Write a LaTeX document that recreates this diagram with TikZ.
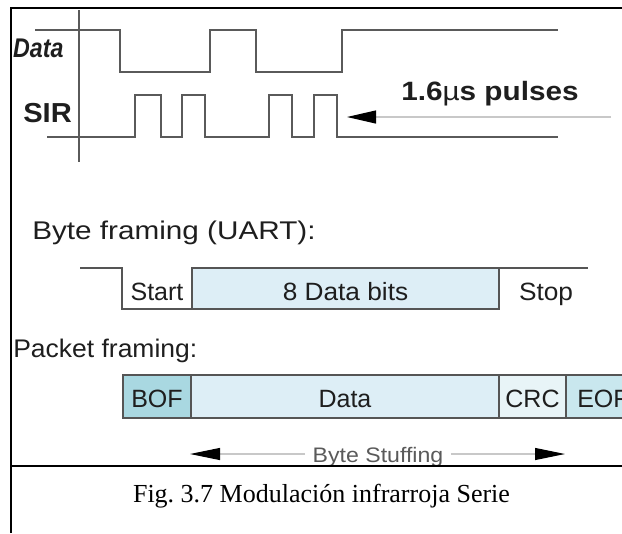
\documentclass[tikz,border=0pt]{standalone}
\usepackage{fontspec}
\setmainfont{Liberation Serif}
\setsansfont{Liberation Sans}
\usetikzlibrary{arrows.meta}
\frenchspacing

\definecolor{ink}{HTML}{1E1E1E}
\definecolor{wavegray}{HTML}{5A5A5A}
\definecolor{boxgray}{HTML}{555555}
\definecolor{hairline}{HTML}{C8C8C8}
\definecolor{databox}{HTML}{DDEEF6}
\definecolor{bofbox}{HTML}{A9D8E1}
\definecolor{crcbox}{HTML}{E8F4F7}
\definecolor{eofbox}{HTML}{C9E7EE}

\begin{document}
\begin{tikzpicture}[x=0.75pt,y=-0.75pt,
  wave/.style={draw=wavegray, line width=1.5pt, line join=miter},
  boxline/.style={draw=boxgray, line width=1.5pt, line join=miter},
  frameline/.style={draw=black, line width=1.2pt},
  pointer/.style={draw=hairline, line width=0.8pt},
  lbl/.style={text=ink, inner sep=0pt},
  sans/.style={lbl, font=\sffamily\fontsize{18.75pt}{22pt}\selectfont},
]
\useasboundingbox (0,0) rectangle (622,533);
\begin{scope}
\clip (0,0) rectangle (622,533);

% ---------- timing diagram ----------
\draw[wave] (79,10) -- (79,162);
\draw[wave] (35,30) -- (120,30) -- (120,72) -- (210,72) -- (210,30) -- (256,30)
  -- (256,72) -- (342,72) -- (342,30) -- (558,30);
\draw[wave] (47,137) -- (135,137) -- (135,95) -- (161,95) -- (161,137)
  -- (182,137) -- (182,95) -- (205,95) -- (205,137) -- (269,137) -- (269,95)
  -- (292,95) -- (292,137) -- (314,137) -- (314,95) -- (337,95) -- (337,137)
  -- (558,137);

\node[lbl, font=\sffamily\bfseries\itshape\fontsize{20.25pt}{24pt}\selectfont,
  xscale=0.86, anchor=base west] (datalbl) at (13,57) {Data};
\node[lbl, font=\sffamily\bfseries\fontsize{20.6pt}{24pt}\selectfont,
  xscale=1.06, anchor=base west] (sirlbl) at (23,122) {SIR};
\node[lbl, font=\sffamily\bfseries\fontsize{19.9pt}{24pt}\selectfont,
  xscale=1.12, anchor=base west] (pulses) at (401,100) {1.6\textmd{µ}s pulses};

\coordinate (ptail) at (611,117);
\coordinate (ptip) at (347,117);
\draw[pointer, -{Triangle[length=21.75pt, width=9.75pt, black]}] (ptail) -- (ptip);

% ---------- byte framing ----------
\node[sans, font=\sffamily\fontsize{19.2pt}{22pt}\selectfont, xscale=1.16,
  anchor=base west] (bytetitle) at (32,239) {Byte framing (UART):};

\draw[boxline] (80,268) -- (122,268) -- (122,309) -- (192,309);
\draw[boxline, fill=databox] (192,268) rectangle (499,309);
\draw[boxline] (499,268) -- (588,268);

\node[sans, anchor=base] (start) at (157,300) {Start};
\node[sans, anchor=base, xscale=1.05] (databits) at (345.5,300) {8 Data bits};
\node[sans, anchor=base, xscale=1.05] (stop) at (546,300) {Stop};

% ---------- packet framing ----------
\node[sans, font=\sffamily\fontsize{19.1pt}{22pt}\selectfont, xscale=1.04,
  anchor=base west] (pkttitle) at (13,357) {Packet framing:};

\draw[boxline, fill=bofbox] (123,375) rectangle (191,418);
\draw[boxline, fill=databox] (191,375) rectangle (499,418);
\draw[boxline, fill=crcbox] (499,375) rectangle (566,418);
\draw[boxline, fill=eofbox] (566,375) rectangle (660,418);

\node[sans, anchor=base] (bof) at (157,407) {BOF};
\node[sans, anchor=base] (pdata) at (345,407) {Data};
\node[sans, anchor=base] (crc) at (532.5,407) {CRC};
\node[sans, anchor=base west] (eof) at (577,407) {EOF};

% ---------- byte stuffing span ----------
\node[lbl, text=wavegray, font=\sffamily\fontsize{15.75pt}{18pt}\selectfont,
  xscale=1.1, inner xsep=5pt, anchor=base] (stuff) at (378,462) {Byte Stuffing};
\coordinate (sleft) at (190,454);
\coordinate (sright) at (565,454);
\draw[pointer, -{Triangle[length=22.5pt, width=9pt, black]}] (stuff.west |- sleft) -- (sleft);
\draw[pointer, -{Triangle[length=22.5pt, width=9pt, black]}] (stuff.east |- sright) -- (sright);

% ---------- caption panel ----------
\fill[white] (11,466) rectangle (622,533);
\draw[frameline] (11,533) -- (11,8) -- (622,8);
\draw[frameline] (11,466) -- (622,466);
\node[lbl, text=black, font=\rmfamily\fontsize{19.5pt}{23pt}\selectfont, anchor=base]
  (caption) at (321.5,502) {Fig. 3.7 Modulación infrarroja Serie};
\end{scope}
\end{tikzpicture}
\end{document}
